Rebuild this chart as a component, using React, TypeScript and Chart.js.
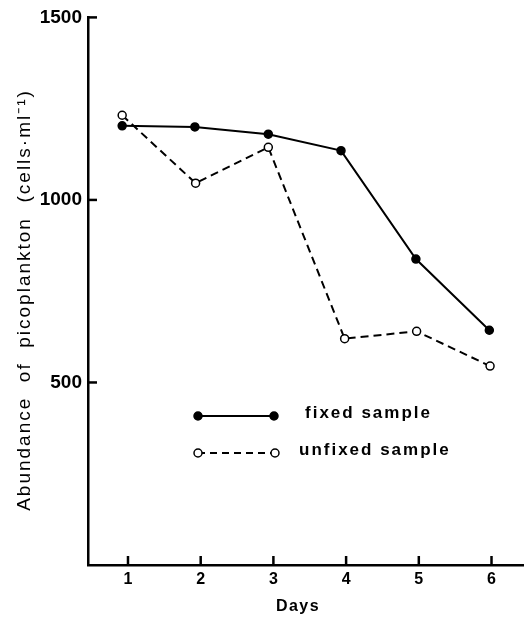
import React, { useEffect, useRef } from "react";
import { Chart, registerables } from "chart.js";

Chart.register(...registerables);

// ---- data ----
const dayTicks = [1, 2, 3, 4, 5, 6];
const yTicks = [500, 1000, 1500];
const fixedDays = [0.92, 1.92, 2.93, 3.93, 4.96, 5.97];
const fixedValues = [1203, 1200, 1180, 1135, 838, 643];
const unfixedDays = [0.92, 1.93, 2.93, 3.98, 4.97, 5.98];
const unfixedValues = [1232, 1046, 1144, 620, 640, 545];
const seriesNames = ["fixed sample", "unfixed sample"];
const xTitle = "Days";
const yTitle = "Abundance  of  picoplankton  (cells·ml⁻¹)";

const FONT = '"Liberation Sans", Arial, Helvetica, sans-serif';

const decor = {
  id: "decor",
  afterDraw(chart: any) {
    const { ctx, chartArea, scales } = chart;
    const xs = scales.x;
    const ys = scales.y;
    ctx.save();
    ctx.strokeStyle = "#000";
    ctx.lineWidth = 2.5;
    ctx.lineCap = "butt";
    // inward tick marks
    dayTicks.forEach((d) => {
      const px = xs.getPixelForValue(d);
      ctx.beginPath();
      ctx.moveTo(px, chartArea.bottom);
      ctx.lineTo(px, chartArea.bottom - 9);
      ctx.stroke();
    });
    yTicks.forEach((v) => {
      const py = ys.getPixelForValue(v);
      ctx.beginPath();
      ctx.moveTo(chartArea.left, py);
      ctx.lineTo(chartArea.left + 9, py);
      ctx.stroke();
    });

    ctx.fillStyle = "#000";
    // x title
    ctx.font = `bold 16px ${FONT}`;
    (ctx as any).letterSpacing = "1.5px";
    ctx.textAlign = "center";
    ctx.textBaseline = "middle";
    ctx.fillText(xTitle, 298, 607);

    // y title
    ctx.save();
    ctx.translate(25, 300);
    ctx.rotate(-Math.PI / 2);
    ctx.font = `19px ${FONT}`;
    (ctx as any).letterSpacing = "2px";
    ctx.fillText(yTitle, 0, 0);
    ctx.restore();

    // legend
    const drawMarker = (x: number, y: number, filled: boolean) => {
      ctx.beginPath();
      ctx.arc(x, y, 4, 0, Math.PI * 2);
      ctx.fillStyle = filled ? "#000" : "#fff";
      ctx.fill();
      ctx.lineWidth = 1.5;
      ctx.strokeStyle = "#000";
      ctx.stroke();
    };
    ctx.lineWidth = 2;
    ctx.strokeStyle = "#000";
    ctx.setLineDash([]);
    ctx.beginPath();
    ctx.moveTo(198, 416);
    ctx.lineTo(274, 416);
    ctx.stroke();
    drawMarker(198, 416, true);
    drawMarker(274, 416, true);

    ctx.lineWidth = 2;
    ctx.setLineDash([7, 5]);
    ctx.beginPath();
    ctx.moveTo(198, 453);
    ctx.lineTo(275, 453);
    ctx.stroke();
    ctx.setLineDash([]);
    drawMarker(198, 453, false);
    drawMarker(275, 453, false);

    ctx.fillStyle = "#000";
    ctx.font = `bold 17px ${FONT}`;
    (ctx as any).letterSpacing = "2px";
    ctx.textAlign = "left";
    ctx.textBaseline = "middle";
    ctx.fillText(seriesNames[0], 305, 413);
    ctx.fillText(seriesNames[1], 299, 450);
    ctx.restore();
  },
};

export default function App() {
  const ref = useRef<HTMLCanvasElement | null>(null);
  useEffect(() => {
    document.body.style.margin = "0";
    const canvas = ref.current;
    if (!canvas) return;
    const chart = new Chart(canvas, {
      type: "scatter",
      data: {
        datasets: [
          {
            label: seriesNames[0],
            data: fixedDays.map((d, i) => ({ x: d, y: fixedValues[i] })),
            showLine: true,
            borderColor: "#000",
            borderWidth: 2,
            pointRadius: 4,
            pointBackgroundColor: "#000",
            pointBorderColor: "#000",
            pointBorderWidth: 1.5,
          },
          {
            label: seriesNames[1],
            data: unfixedDays.map((d, i) => ({ x: d, y: unfixedValues[i] })),
            showLine: true,
            borderColor: "#000",
            borderWidth: 2,
            borderDash: [8, 5],
            pointRadius: 4,
            pointBackgroundColor: "#fff",
            pointBorderColor: "#000",
            pointBorderWidth: 1.5,
          },
        ],
      },
      options: {
        responsive: false,
        animation: false,
        layout: { padding: { left: 0, top: 13, right: 2, bottom: 0 } },
        plugins: {
          legend: { display: false },
          tooltip: { enabled: false },
        },
        scales: {
          x: {
            type: "linear",
            min: 0.45,
            max: 6.44,
            afterBuildTicks: (s: any) => {
              s.ticks = dayTicks.map((v) => ({ value: v }));
            },
            afterFit: (s: any) => {
              s.height = 52;
            },
            grid: { display: true, drawOnChartArea: false, drawTicks: false },
            border: { display: true, color: "#000", width: 2.5 },
            ticks: {
              color: "#000",
              padding: 5,
              maxRotation: 0,
              font: { family: FONT, weight: "bold", size: 16 },
              callback: (v: any) => String(v),
            },
          },
          y: {
            type: "linear",
            min: 0,
            max: 1500,
            afterBuildTicks: (s: any) => {
              s.ticks = yTicks.map((v) => ({ value: v }));
            },
            afterFit: (s: any) => {
              s.width = 88;
            },
            grid: { display: true, drawOnChartArea: false, drawTicks: false },
            border: { display: true, color: "#000", width: 2.5 },
            ticks: {
              color: "#000",
              padding: 6,
              font: { family: FONT, weight: "bold", size: 19 },
              callback: (v: any) => String(v),
            },
          },
        },
      },
      plugins: [decor],
    });
    return () => chart.destroy();
  }, []);
  return (
    <div style={{ width: 529, height: 617, background: "#fff" }}>
      <canvas ref={ref} width={529} height={617} style={{ display: "block" }} />
    </div>
  );
}
